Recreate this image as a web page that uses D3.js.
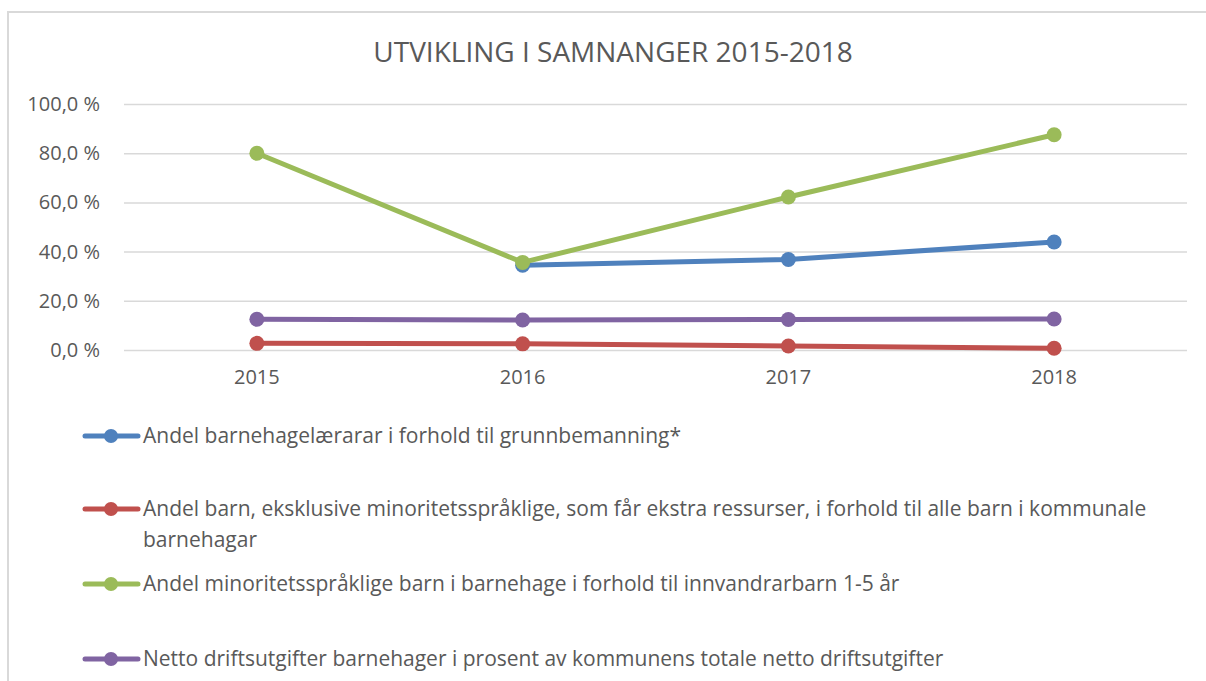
<!DOCTYPE html>
<html>
<head>
<meta charset="utf-8">
<script src="https://cdn.jsdelivr.net/npm/d3@7"></script>
<style>
  body { margin: 0; background: #fff; }
  svg { display: block; font-family: "Open Sans", Lato, sans-serif; }
</style>
</head>
<body>
<svg id="chart" width="1206" height="681"></svg>
<script>
/* ── DATA ── */
const years = ['2015', '2016', '2017', '2018'];
const yTicks = [0, 20, 40, 60, 80, 100];

const laerarar = [null, 34.5, 36.8, 43.9];
const ekstraRessursar = [2.7, 2.5, 1.6, 0.7];
const minoritet = [80.0, 35.6, 62.2, 87.5];
const driftsutgifter = [12.5, 12.2, 12.4, 12.6];

const seriesNames = [
  'Andel barnehagelærarar i forhold til grunnbemanning*',
  'Andel barn, eksklusive minoritetsspråklige, som får ekstra ressurser, i forhold til alle barn i kommunale|barnehagar',
  'Andel minoritetsspråklige barn i barnehage i forhold til innvandrarbarn 1-5 år',
  'Netto driftsutgifter barnehager i prosent av kommunens totale netto driftsutgifter'
];
const seriesColors = ['#4f81bd', '#c0504d', '#9bbb59', '#8064a2'];
const seriesValues = [laerarar, ekstraRessursar, minoritet, driftsutgifter];

/* ── CHART ── */
(function () {
  const svg = d3.select('#chart');
  const TXT = '#595959';
  const FONT = '"Open Sans", sans-serif';

  // outer frame
  svg.append('path')
    .attr('d', 'M8,681 V12 H1206')
    .attr('fill', 'none').attr('stroke', '#d9d9d9').attr('stroke-width', 2);

  svg.append('text')
    .attr('x', 613).attr('y', 62)
    .attr('text-anchor', 'middle')
    .attr('fill', TXT).style('font-size', '28px')
    .text('UTVIKLING I SAMNANGER 2015-2018');

  const m = { left: 124, right: 1187, top: 104, bottom: 350 };
  const x = d3.scaleBand().domain(years).range([m.left, m.right]);
  const y = d3.scaleLinear().domain([0, 100]).range([m.bottom, m.top]);

  // gridlines
  svg.append('g')
    .attr('transform', `translate(${m.left},0)`)
    .call(d3.axisLeft(y).tickValues(yTicks).tickSize(-(m.right - m.left)).tickFormat(''))
    .call(g => g.select('.domain').remove())
    .call(g => g.selectAll('line').attr('stroke', '#d9d9d9').attr('stroke-width', 1.5));

  // y labels
  svg.append('g')
    .attr('transform', `translate(${m.left},0)`)
    .call(d3.axisLeft(y).tickValues(yTicks).tickSize(0).tickPadding(24)
      .tickFormat(d => d.toFixed(1).replace('.', ',') + ' %'))
    .call(g => g.select('.domain').remove())
    .call(g => g.selectAll('text').attr('fill', TXT).style('font-size', '20px')
      .style('font-family', FONT));

  // x labels
  svg.append('g')
    .attr('transform', `translate(0,${m.bottom})`)
    .call(d3.axisBottom(x).tickSize(0).tickPadding(20))
    .call(g => g.select('.domain').remove())
    .call(g => g.selectAll('text').attr('fill', TXT).style('font-size', '20px')
      .style('font-family', FONT));

  const cx = d => x(d) + x.bandwidth() / 2;
  const line = d3.line()
    .defined(d => d.v != null)
    .x(d => cx(d.year)).y(d => y(d.v));

  seriesValues.forEach((vals, i) => {
    const pts = years.map((yr, j) => ({ year: yr, v: vals[j] }));
    const g = svg.append('g');
    g.append('path').datum(pts)
      .attr('d', line)
      .attr('fill', 'none').attr('stroke', seriesColors[i])
      .attr('stroke-width', 5).attr('stroke-linejoin', 'round');
    g.selectAll('circle').data(pts.filter(d => d.v != null)).join('circle')
      .attr('cx', d => cx(d.year)).attr('cy', d => y(d.v))
      .attr('r', 7.5).attr('fill', seriesColors[i]);
  });

  // legend
  const legendY = [436, 509, 584, 659];
  seriesNames.forEach((name, i) => {
    const g = svg.append('g').attr('transform', `translate(0,${legendY[i]})`);
    g.append('line').attr('x1', 85).attr('x2', 138).attr('y1', 0).attr('y2', 0)
      .attr('stroke', seriesColors[i]).attr('stroke-width', 5).attr('stroke-linecap', 'round');
    g.append('circle').attr('cx', 111).attr('cy', 0).attr('r', 7).attr('fill', seriesColors[i]);
    name.split('|').forEach((part, k) => {
      g.append('text')
        .attr('x', 143).attr('y', 7 + k * 31)
        .attr('fill', TXT).style('font-size', '21px')
        .text(part);
    });
  });
})();
</script>
</body>
</html>
